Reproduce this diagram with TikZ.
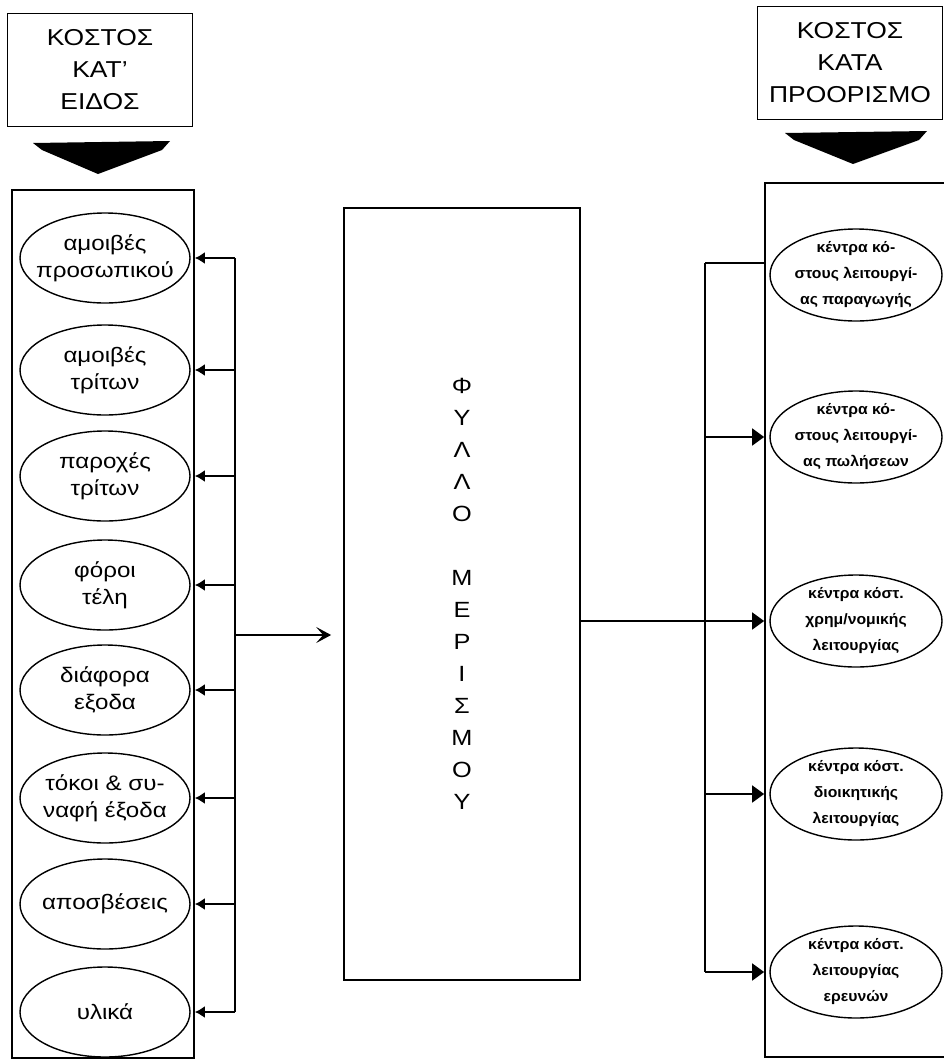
\documentclass[tikz,border=0pt]{standalone}
\usepackage{fontspec}
\setmainfont{Liberation Sans}[FakeStretch=1.15]
\newfontfamily\destfont{Liberation Sans}[FakeStretch=1.05]
\usetikzlibrary{shapes.geometric,arrows.meta}

\begin{document}
\begin{tikzpicture}[x=1pt,y=-1pt,line width=1.7pt,
	header/.style={draw, line width=1.3pt, minimum width=185pt, minimum height=113pt, align=center, font=\fontsize{23}{32}\selectfont},
	kind/.style={ellipse, draw, line width=1.4pt, minimum width=170pt, minimum height=90pt, inner xsep=-16pt, inner ysep=-6pt, align=center, font=\fontsize{21}{27}\selectfont},
	dest/.style={ellipse, draw, line width=1.4pt, minimum width=172pt, minimum height=92pt, inner xsep=-12pt, inner ysep=-4pt, align=center, font=\destfont\bfseries\fontsize{15}{26}\selectfont},
	toleft/.style={-{Latex[length=10pt,width=12pt]}},
	toright/.style={-{Triangle[length=12pt,width=17pt]}}]
	\useasboundingbox (0,0) rectangle (944,1063);
	% headers and the two black pointers
	\node (HK) at (100,70)	[header]	{ΚΟΣΤΟΣ\\ΚΑΤ'\\ΕΙΔΟΣ};
	\node (HD) at (850,63)	[header]	{ΚΟΣΤΟΣ\\ΚΑΤΑ\\ΠΡΟΟΡΙΣΜΟ};
	\fill (33,143) -- (170,141) -- (162,150) -- (98,174) -- (42,150) -- cycle;
	\fill (785,133) -- (927,131) -- (919,140) -- (853,164) -- (794,140) -- cycle;
	% columns
	\node (KC) at (103,624)	[draw, minimum width=182pt, minimum height=868pt]	{};
	\node (DC) at (860,620)	[draw, minimum width=190pt, minimum height=874pt]	{};
	\node (F) at (462,594)	[draw, minimum width=236pt, minimum height=772pt, align=center, font=\fontsize{22}{32}\selectfont]
		{Φ\\Υ\\Λ\\Λ\\Ο\\[32pt]Μ\\Ε\\Ρ\\Ι\\Σ\\Μ\\Ο\\Υ};
	\node (K1) at (105,258)	[kind]	{αμοιβές\\προσωπικού};
	\node (K2) at (105,370)	[kind]	{αμοιβές\\τρίτων};
	\node (K3) at (105,476)	[kind]	{παροχές\\τρίτων};
	\node (K4) at (105,585)	[kind]	{φόροι\\τέλη};
	\node (K5) at (105,690)	[kind]	{διάφορα\\εξοδα};
	\node (K6) at (105,798)	[kind]	{τόκοι \& συ-\\ναφή έξοδα};
	\node (K7) at (105,904)	[kind]	{αποσβέσεις};
	\node (K8) at (105,1012)	[kind]	{υλικά};
	\node (D1) at (856,275)	[dest]	{κέντρα κό-\\στους λειτουργί-\\ας παραγωγής};
	\node (D2) at (856,437)	[dest]	{κέντρα κό-\\στους λειτουργί-\\ας πωλήσεων};
	\node (D3) at (856,621)	[dest]	{κέντρα κόστ.\\χρημ/νομικής\\λειτουργίας};
	\node (D4) at (856,794)	[dest]	{κέντρα κόστ.\\διοικητικής\\λειτουργίας};
	\node (D5) at (856,972)	[dest]	{κέντρα κόστ.\\λειτουργίας\\ερευνών};
	\coordinate (BL) at (235,635);
	\coordinate (BR) at (705,263);
	% left bus
	\draw (BL |- K1) -- (BL |- K8);
	\draw[toleft] (BL |- K1) -- (KC.east |- K1);
	\draw[toleft] (BL |- K2) -- (KC.east |- K2);
	\draw[toleft] (BL |- K3) -- (KC.east |- K3);
	\draw[toleft] (BL |- K4) -- (KC.east |- K4);
	\draw[toleft] (BL |- K5) -- (KC.east |- K5);
	\draw[toleft] (BL |- K6) -- (KC.east |- K6);
	\draw[toleft] (BL |- K7) -- (KC.east |- K7);
	\draw[toleft] (BL |- K8) -- (KC.east |- K8);
	\draw[-{Stealth[length=15pt,width=16pt,inset=7pt]}, shorten >=12pt] (BL) -- (BL -| F.west);
	% right bus
	\draw (BR) -- (BR |- D5);
	\draw (BR) -- (BR -| DC.west);
	\draw[toright] (BR |- D2) -- (DC.west |- D2);
	\draw[toright] (F.east |- D3) -- (DC.west |- D3);
	\draw[toright] (BR |- D4) -- (DC.west |- D4);
	\draw[toright] (BR |- D5) -- (DC.west |- D5);
\end{tikzpicture}
\end{document}
